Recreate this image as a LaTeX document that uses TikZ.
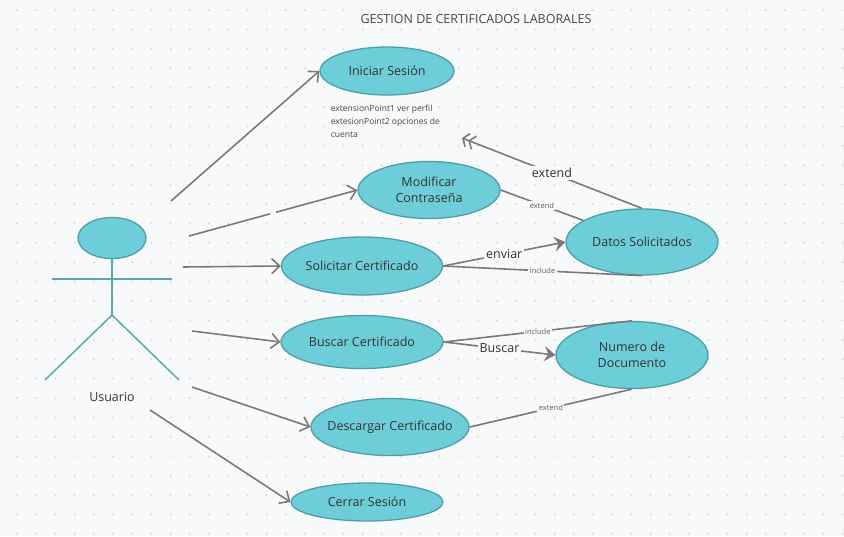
\documentclass[tikz,border=0pt]{standalone}
\usepackage{fontspec}
\setmainfont{Open Sans}
\usepackage{xcolor}
\usepackage{tikz}
\usetikzlibrary{arrows.meta,shapes.geometric}
\definecolor{fondo}{HTML}{F8F9FB}
\definecolor{punto}{HTML}{D8DADF}
\definecolor{celeste}{HTML}{6DCED9}
\definecolor{borde}{HTML}{4E9EA8}
\definecolor{actor}{HTML}{5BA8B1}
\definecolor{linea}{HTML}{7A7A7A}
\definecolor{texto}{HTML}{333333}

\begin{document}
\begin{tikzpicture}[x=1pt,y=-1pt,line width=1.6pt,
                    >={Straight Barb[length=8pt,width=15pt]}]
  \tikzstyle{uso}=[ellipse,fill=celeste,draw=borde,line width=1.3pt,inner ysep=0pt,inner xsep=-12pt,
                   text=texto,align=center,font=\fontsize{12.5}{16}\selectfont]
  \tikzstyle{flecha}=[->,color=linea]
  \tikzstyle{llena}=[-{Stealth[length=11pt,width=15pt,inset=4pt]},color=linea]
  \tikzstyle{doble}=[-{Straight Barb[length=5pt,width=14pt]Straight Barb[length=5pt,width=14pt]},color=linea]
  \tikzstyle{linea}=[-,color=linea]
  \tikzstyle{chica}=[fill=fondo,inner sep=1.5pt,text=texto!80,font=\fontsize{7.5}{9}\selectfont]
  \tikzstyle{grande}=[fill=fondo,inner sep=2pt,text=texto,font=\fontsize{12.5}{15}\selectfont]
  \tikzstyle{hueco}=[fill=fondo,inner sep=0pt,minimum width=6pt,minimum height=5pt]

  \useasboundingbox (0,0) rectangle (844,536);
  \fill[fondo] (0,0) rectangle (844,536);
  \foreach \i in {0,...,43}
    \foreach \j in {0,...,27}
      \fill[punto] (17+19.2*\i,10+19.4*\j) circle (1.1);

  \node[text=texto!90,font=\fontsize{12.5}{15}\selectfont] (T) at (476,19) {GESTION DE CERTIFICADOS LABORALES};

  \node[uso,minimum width=134,minimum height=48] (IS) at (387,71)  {Iniciar Sesión};
  \node[uso,minimum width=142,minimum height=57] (MC) at (429,190) {Modificar\\Contraseña};
  \node[uso,minimum width=161,minimum height=58] (SC) at (362,266) {Solicitar Certificado};
  \node[uso,minimum width=152,minimum height=66] (DS) at (642,242) {Datos Solicitados};
  \node[uso,minimum width=162,minimum height=53] (BC) at (362,342) {Buscar Certificado};
  \node[uso,minimum width=152,minimum height=67] (ND) at (632,355) {Numero de\\Documento};
  \node[uso,minimum width=158,minimum height=57] (DC) at (390,427) {Descargar Certificado};
  \node[uso,minimum width=152,minimum height=38] (CS) at (367,502) {Cerrar Sesión};

  \node[anchor=north west,align=left,inner sep=0pt,text=texto!90,
        font=\fontsize{8.5}{13}\selectfont] (EP) at (330,104)
        {extensionPoint1 ver perfil\\extesionPoint2 opciones de\\cuenta};
  \coordinate (ep) at (462,138);

  \node[ellipse,fill=celeste,draw=borde,line width=1.3pt,minimum width=68,minimum height=41] (U) at (112,238) {};
  \draw[actor,line width=1.5pt] (U.south) -- (112,315) coordinate (cad);
  \draw[actor,line width=1.5pt] (52,279) -- (172,279);
  \draw[actor,line width=1.5pt] (45,380) -- (cad) -- (179,380);
  \node[text=texto,font=\fontsize{12.5}{15}\selectfont] (usr) at (112,397) {Usuario};

  \coordinate (a1) at (171,201);
  \coordinate (a2) at (189,236);
  \coordinate (a3) at (183,267);
  \coordinate (a4) at (192,331);
  \coordinate (a5) at (192,387);
  \coordinate (a6) at (150,410);

  \path (a1) edge [flecha]                 (IS.west)
        (a2) edge [flecha] node[hueco] {} (MC.west)
        (a3) edge [flecha]                 (SC.west)
        (a4) edge [flecha]                 (BC.west)
        (a5) edge [flecha]                 (DC.west)
        (a6) edge [flecha]                 (CS.west);
  \path (MC.east) edge [linea] node[chica] {extend} (DS)
        (DS.north) edge [doble] node[grande] {extend} (ep)
        (SC.east) edge [llena] node[grande] {enviar} (DS.west)
                  edge [linea] node[chica] {include} (DS.south)
        (BC.east) edge [linea] node[chica] {include} (ND.north)
                  edge [llena] node[grande] {Buscar} (ND.west)
        (DC.east) edge [linea] node[chica] {extend} (ND.south);
\end{tikzpicture}
\end{document}
